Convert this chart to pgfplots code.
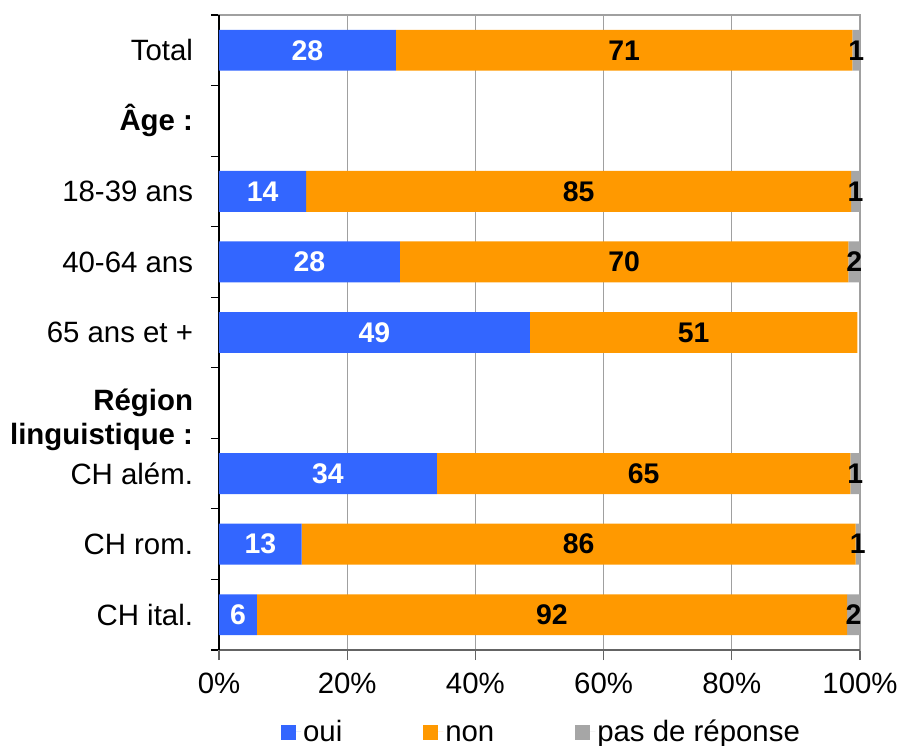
\documentclass[border=0pt]{standalone}
\usepackage{pgfplots}
\pgfplotsset{compat=1.18}
\usepackage{pgfplotstable}
\usepackage{fontspec}
\setmainfont{Liberation Sans}
\definecolor{cOui}{RGB}{51,102,255}
\definecolor{cNon}{RGB}{255,153,0}
\definecolor{cNr}{RGB}{166,166,166}
\definecolor{cGrid}{RGB}{160,160,160}
\definecolor{cAx}{RGB}{100,100,100}

\pgfplotstableread{
y oui non nr
0 27.6 71.2 1.2
2 13.6 85.0 1.4
3 28.2 70.0 1.8
4 48.5 51.1 0
6 34.0 64.5 1.5
7 12.9 86.4 0.7
8 5.9 92.1 2.0
}\data

\begin{document}
\fontsize{29.5}{34}\selectfont
\begin{tikzpicture}
\pgfplotsset{common/.style={width=641bp, height=635bp, scale only axis,
  xmin=0, xmax=100, ymin=-0.5, ymax=8.5, y dir=reverse},
  sq/.style={legend image code/.code={\fill[##1] (0bp,-9bp) rectangle (15bp,6bp); \path (0bp,0bp) -- (20bp,0bp);}}}
\begin{axis}[common, xbar stacked, bar width=0.58, clip=false,
  xtick={0,20,...,100}, xticklabels={0\%,20\%,40\%,60\%,80\%,100\%},
  ytick={0,1,2,3,4,5.24,6,7,8},
  yticklabels={Total,\textbf{Âge :},18-39 ans,40-64 ans,65 ans et +,{\textbf{Région}\\\textbf{linguistique :}},CH além.,CH rom.,CH ital.},
  yticklabel style={align=right, xshift=-6bp},
  xticklabel style={yshift=-3bp},
  minor ytick={-0.5,0.5,...,8.5},
  tick pos=left, tick align=outside,
  major tick length=10bp, minor tick length=8bp,
  major y tick style={draw=none},
  minor y tick style={black, line width=1.2bp},
  xtick style={cAx, line width=1.2bp},
  xmajorgrids, grid style={cGrid, line width=1.3bp},
  axis line style={cGrid, line width=1.5bp},
  legend columns=-1,
  legend style={draw=none, fill=none, at={(0.5,0)}, anchor=center, yshift=-81bp, xshift=2bp,
    /tikz/every even column/.append style={column sep=79bp}},
]
\addplot[fill=cOui, draw=none, sq] table[x=oui, y=y] {\data};
\addplot[fill=cNon, draw=none, sq] table[x=non, y=y] {\data};
\addplot[fill=cNr, draw=none, sq] table[x=nr, y=y] {\data};
\legend{\vphantom{Áp}oui,\vphantom{Áp}non,\vphantom{Áp}pas de réponse}
\draw[black, line width=1.5bp] (axis description cs:0,0) -- (axis description cs:0,1);
\draw[cAx, line width=1.5bp] (axis description cs:0,0) -- (axis description cs:1,0);
\end{axis}
\begin{axis}[common, hide axis, clip=false,
  nodes near coords, point meta=explicit symbolic,
  every node near coord/.style={anchor=center, font=\fontsize{28.5}{30}\bfseries}]
\addplot[draw=none, mark=none, every node near coord/.append style={text=white}] table[x=x, y=y, meta=l] {
x y l
13.8 0 28
6.8 2 14
14.1 3 28
24.25 4 49
17.0 6 34
6.45 7 13
2.95 8 6
};
\addplot[draw=none, mark=none, every node near coord/.append style={text=black}] table[x=x, y=y, meta=l] {
x y l
63.2 0 71
56.1 2 85
63.2 3 70
74.05 4 51
66.25 6 65
56.1 7 86
51.95 8 92
};
\addplot[draw=none, mark=none, every node near coord/.append style={text=black}] table[x=x, y=y, meta=l] {
x y l
99.4 0 1
99.3 2 1
99.1 3 2
99.25 6 1
99.65 7 1
99.0 8 2
};
\end{axis}
\pgfresetboundingbox
\path[use as bounding box] ([shift={(-219bp,-96bp)}]current axis.south west) rectangle ([shift={(39bp,15bp)}]current axis.north east);
\end{tikzpicture}
\end{document}
